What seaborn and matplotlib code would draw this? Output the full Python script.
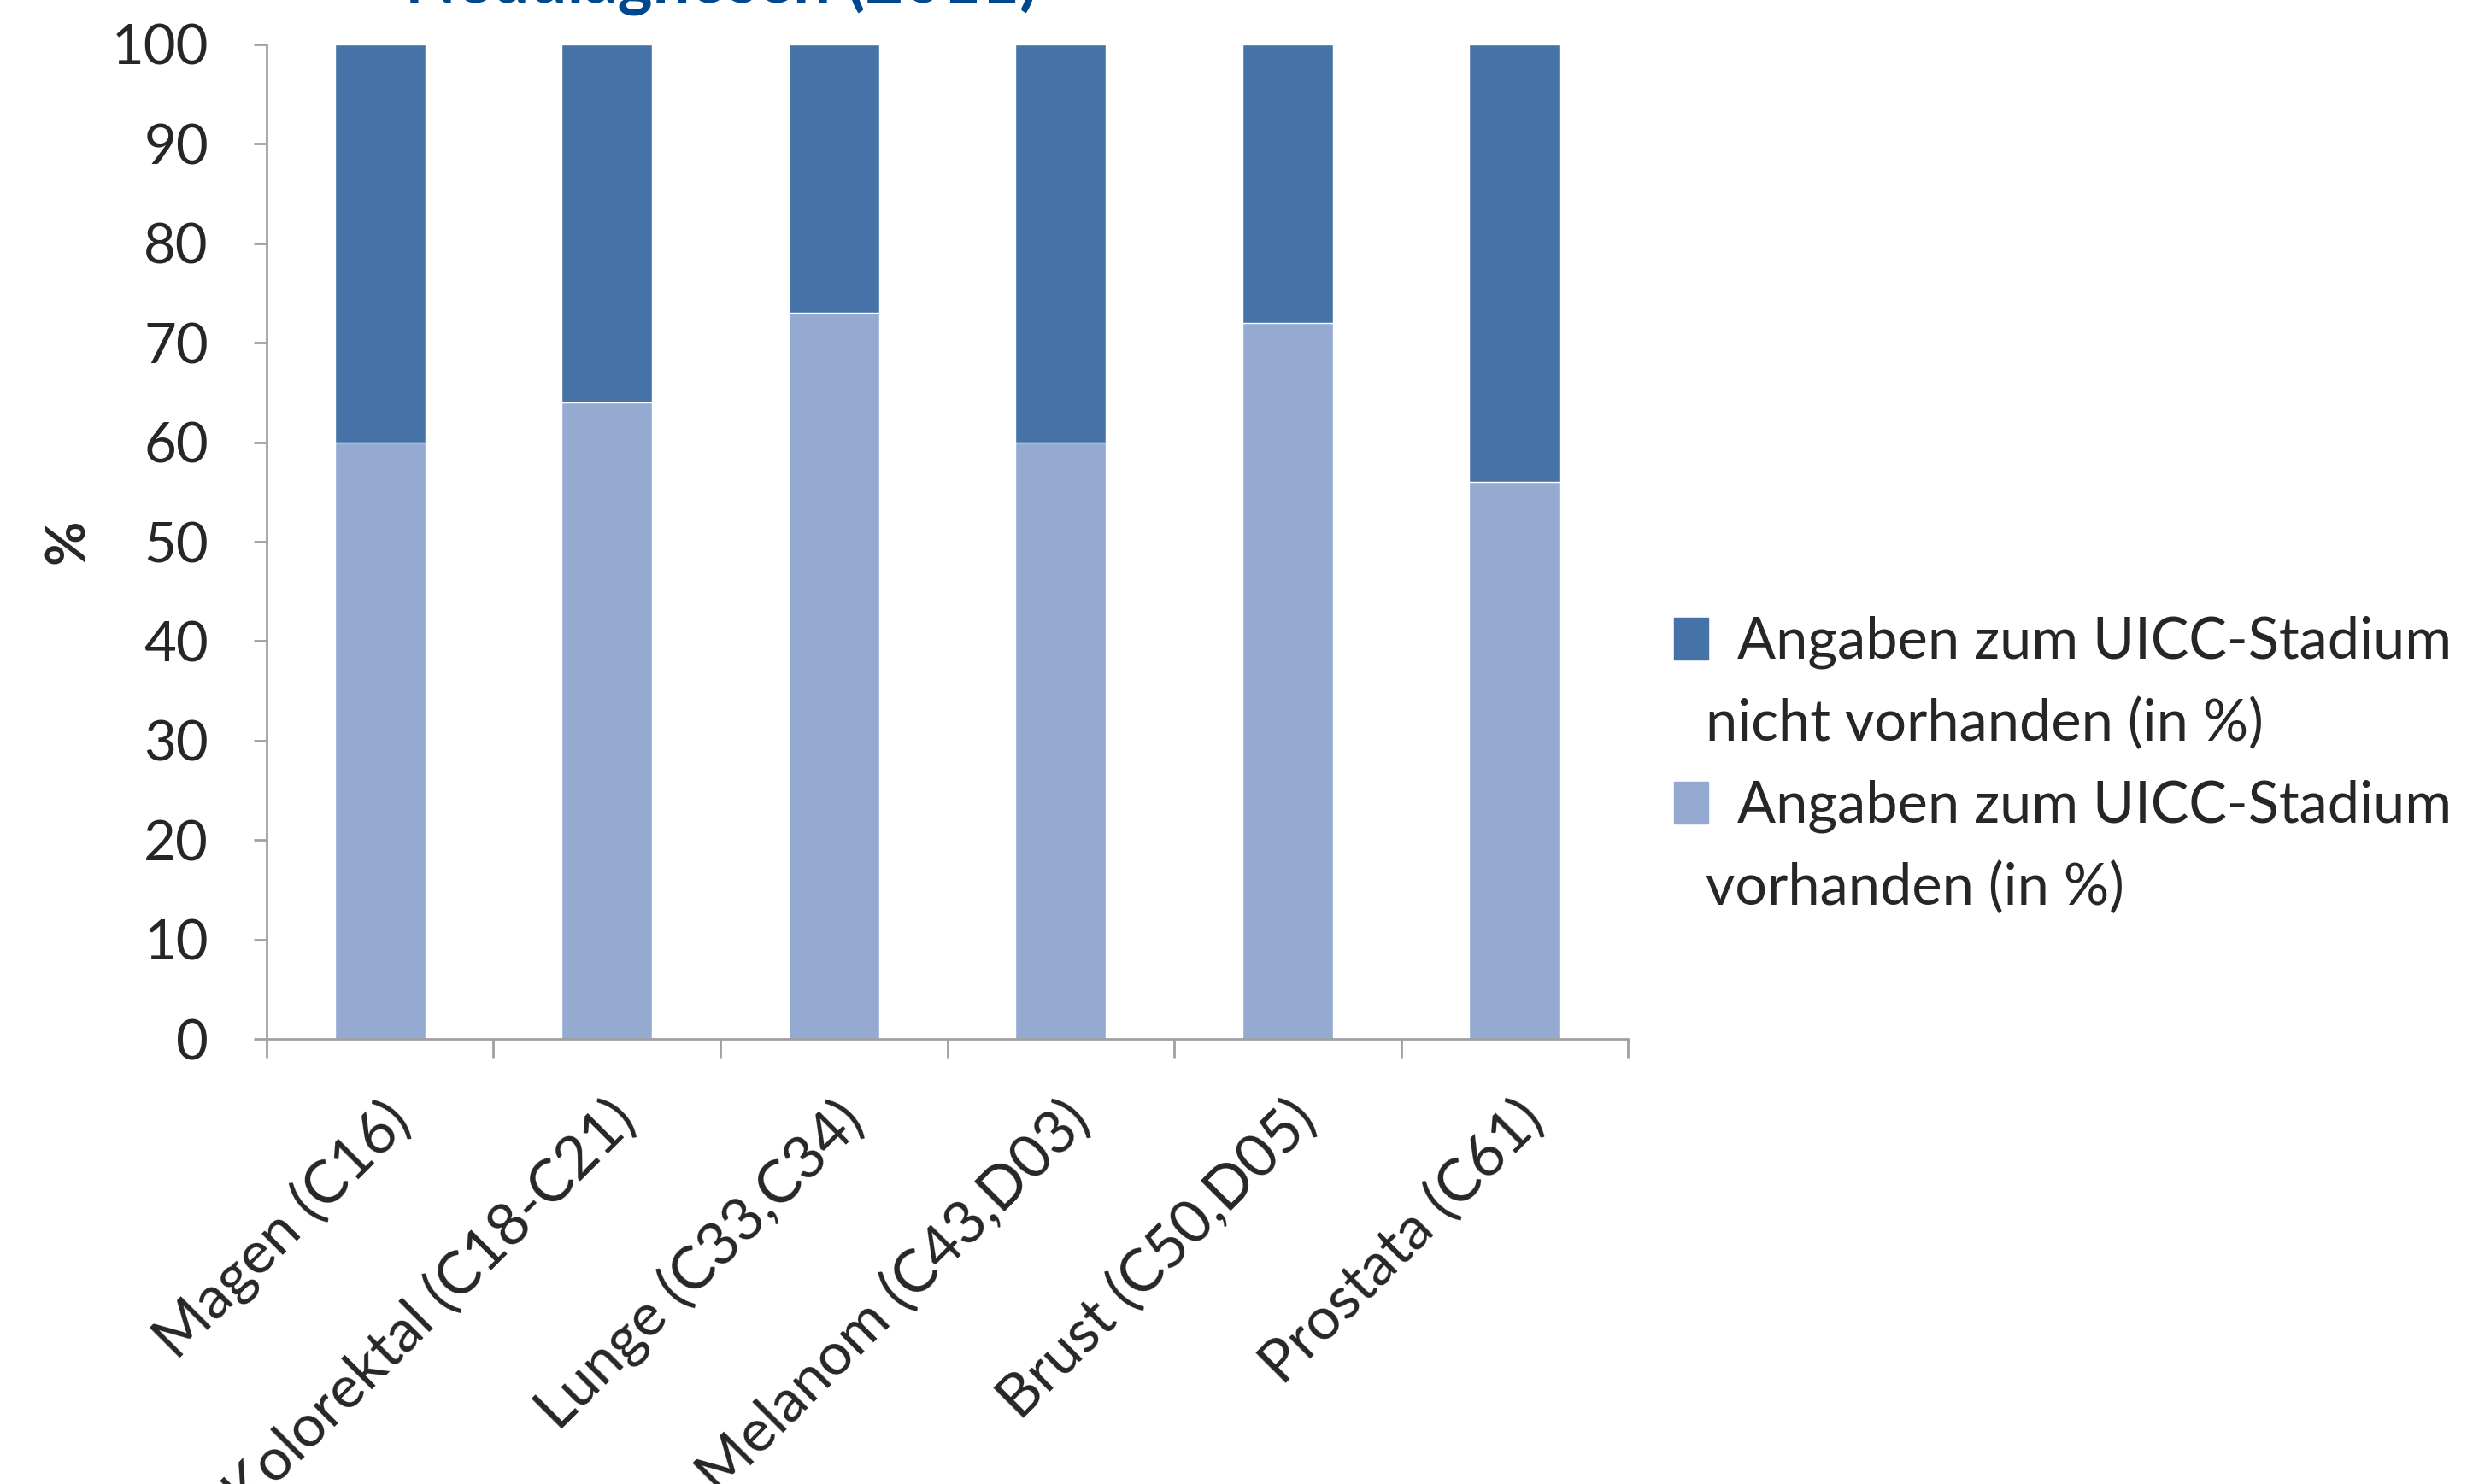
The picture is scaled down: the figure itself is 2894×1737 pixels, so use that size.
import pandas as pd
import matplotlib.pyplot as plt
import matplotlib.patches as mpatches
import seaborn as sns

# Daten
kategorien = ['Magen (C16)', 'Kolorektal (C18-C21)', 'Lunge (C33,C34)',
              'Melanom (C43,D03)', 'Brust (C50,D05)', 'Prostata (C61)']
vorhanden = [60, 64, 73, 60, 72, 56]
nicht_vorhanden = [40, 36, 27, 40, 28, 44]
legende_nicht = [' Angaben zum UICC-Stadium', 'nicht vorhanden (in %)']
legende_vorh = [' Angaben zum UICC-Stadium', 'vorhanden (in %)']
titel = 'Neudiagnosen (2011)'

df = pd.DataFrame({'kategorie': kategorien,
                   'vorhanden': vorhanden,
                   'nicht': nicht_vorhanden})
df['gesamt'] = df['vorhanden'] + df['nicht']

sns.set_style('white')
plt.rcParams['font.family'] = ['Lato', 'DejaVu Sans']

dunkel = '#4573A7'
hell = '#95AAD1'
grau = '#A0A0A0'

fig = plt.figure(figsize=(28.94, 17.37), dpi=100)
ax = fig.add_axes([0.1078, 0.2999, 0.5505, 0.6702])

sns.barplot(data=df, x='kategorie', y='gesamt', color=dunkel, width=0.4,
            saturation=1, ax=ax)
sns.barplot(data=df, x='kategorie', y='vorhanden', color=hell, width=0.4,
            saturation=1, ax=ax)

ax.set_ylim(0, 100)
ax.set_xlim(-0.5, len(kategorien) - 0.5)
ax.set_yticks(range(0, 101, 10))
ax.tick_params(axis='y', labelsize=47, length=11, width=2, color=grau,
               left=True, direction='out', pad=38)
ax.set_xticks(range(len(kategorien)))
ax.set_xticklabels(kategorien, rotation=45, ha='right', rotation_mode='anchor',
                   fontsize=50)
ax.tick_params(axis='x', length=0, pad=44)
ax.set_xticks([i - 0.5 for i in range(len(kategorien) + 1)], minor=True)
ax.tick_params(axis='x', which='minor', length=16, width=2, color=grau,
               bottom=True, direction='out')

for s in ['top', 'right']:
    ax.spines[s].set_visible(False)
for s in ['left', 'bottom']:
    ax.spines[s].set_color(grau)
    ax.spines[s].set_linewidth(2)

ax.set_xlabel('')
ax.set_ylabel('%', fontsize=46, fontweight='bold', labelpad=16)

# Legende: Kästchen auf Höhe der ersten Zeile
leer = mpatches.Patch(color='none')
handles = [mpatches.Patch(color=dunkel), leer,
           mpatches.Patch(color=hell), leer]
labels = [legende_nicht[0], legende_nicht[1], legende_vorh[0], legende_vorh[1]]
leg = fig.legend(handles, labels, loc='upper left',
                 bbox_to_anchor=(0.677, 0.585), frameon=False, fontsize=48,
                 handlelength=0.6, handleheight=0.75, handletextpad=0.25,
                 labelspacing=0.5, borderpad=0, borderaxespad=0)
for i, t in enumerate(leg.get_texts()):
    if i % 2 == 1:
        t.set_position((-20, 0))

fig.text(0.2916, 1 - 4 / 1737, titel, ha='center', va='baseline',
         fontsize=56, fontweight='bold', color='#00488D')

plt.savefig('out.png', dpi=100)
